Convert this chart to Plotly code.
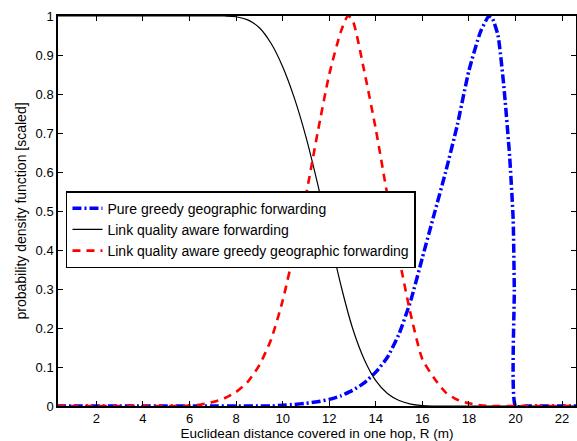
import plotly.graph_objects as go

# ---- data ----
x_black = [0.3, 1, 2, 3, 4, 5, 6, 7, 7.5, 8.0, 8.5, 9.0, 9.5, 10.0, 10.5, 11.0, 11.5, 12.0,
           12.5, 13.0, 13.5, 14.0, 14.5, 15.0, 15.5, 16.0, 16.5, 17, 18, 19, 20, 21, 22, 22.6]
y_black = [1, 1, 1, 1, 1, 1, 1, 1, 1.0, 0.998, 0.99, 0.97, 0.93, 0.87, 0.79, 0.69, 0.57, 0.44,
           0.31, 0.20, 0.12, 0.065, 0.032, 0.014, 0.005, 0.001, 0, 0, 0, 0, 0, 0, 0, 0]

x_red = [0.3, 1, 2, 3, 4, 5, 5.5, 6.0, 6.5, 7.0, 7.5, 8.0, 8.5, 9.0, 9.5, 10.0, 10.5, 11.0,
         11.5, 12.0, 12.5, 12.8, 13.0, 13.5, 14.0, 14.5, 15.0, 15.5, 16.0, 16.5, 17.0, 17.5,
         18.0, 18.5, 19.0, 20, 21, 22, 22.6]
y_red = [0, 0, 0, 0, 0, 0, 0, 0.001, 0.004, 0.010, 0.020, 0.036, 0.062, 0.105, 0.17, 0.27,
         0.40, 0.54, 0.70, 0.85, 0.96, 1.0, 0.99, 0.86, 0.71, 0.54, 0.38, 0.235, 0.12, 0.072,
         0.035, 0.016, 0.007, 0.002, 0, 0, 0, 0, 0]

x_blue = [0.3, 1, 2, 3, 4, 5, 6, 7, 8, 9, 9.5, 10.0, 10.5, 11.0, 11.5, 12.0, 12.5, 13.0, 13.5,
          14.0, 14.5, 15.0, 15.5, 16.0, 16.5, 17.0, 17.5, 18.0, 18.5, 18.86, 19.0, 19.25,
          19.5, 19.75, 19.9, 19.95, 20.0, 20.5, 21, 22, 22.6]
y_blue = [0, 0, 0, 0, 0, 0, 0, 0, 0, 0, 0, 0.002, 0.004, 0.007, 0.011, 0.017, 0.026, 0.040,
          0.059, 0.087, 0.125, 0.185, 0.27, 0.38, 0.49, 0.60, 0.72, 0.86, 0.96, 1.0, 0.995,
          0.95, 0.82, 0.64, 0.48, 0.30, 0, 0, 0, 0, 0]

x_ticks = [2, 4, 6, 8, 10, 12, 14, 16, 18, 20, 22]
y_ticks = [0, 0.1, 0.2, 0.3, 0.4, 0.5, 0.6, 0.7, 0.8, 0.9, 1]
y_ticklabels = ["0", "0.1", "0.2", "0.3", "0.4", "0.5", "0.6", "0.7", "0.8", "0.9", "1"]

names = ["Pure greedy geographic forwarding",
         "Link quality aware forwarding",
         "Link quality aware greedy geographic forwarding"]

FONT = "Liberation Sans, Arial, Helvetica, sans-serif"

fig = go.Figure()
fig.add_trace(go.Scatter(x=x_blue, y=y_blue, mode="lines", name=names[0],
                         line=dict(color="#0000ff", width=3.5, dash="9px,3px,2px,3px",
                                   shape="spline", smoothing=0.5)))
fig.add_trace(go.Scatter(x=x_black, y=y_black, mode="lines", name=names[1],
                         line=dict(color="#000000", width=1.2, shape="spline", smoothing=1.0)))
fig.add_trace(go.Scatter(x=x_red, y=y_red, mode="lines", name=names[2],
                         line=dict(color="#ff0000", width=2.6, dash="8px,6px",
                                   shape="spline", smoothing=0.6)))

axis_common = dict(showline=True, linecolor="black", linewidth=1.5, mirror="ticks",
                   ticks="inside", ticklen=5, tickcolor="black", tickwidth=1,
                   showgrid=False, zeroline=False, automargin=False,
                   tickfont=dict(family=FONT, size=13, color="black"))

fig.update_layout(
    width=577, height=441,
    margin=dict(l=58, r=1, t=16, b=35, autoexpand=False),
    plot_bgcolor="white", paper_bgcolor="white",
    font=dict(family=FONT, size=14, color="black"),
    xaxis=dict(range=[0.35, 22.6], tickvals=x_ticks,
               title=dict(text="Euclidean distance covered in one hop, R (m)",
                          font=dict(family=FONT, size=13.5), standoff=3),
               **axis_common),
    yaxis=dict(range=[0, 1], tickvals=y_ticks, ticktext=y_ticklabels,
               title=dict(text="probability density function [scaled]",
                          font=dict(family=FONT, size=14), standoff=6),
               **axis_common),
    legend=dict(x=0.0154, y=0.551, xanchor="left", yanchor="top",
                bgcolor="white", bordercolor="black", borderwidth=1.5,
                font=dict(family=FONT, size=14, color="black"),
                tracegroupgap=0, itemwidth=30),
    showlegend=True,
)

fig.write_html("out.html", config={"displayModeBar": False},
               post_script="document.body.style.margin='0';document.body.style.overflow='hidden';")
